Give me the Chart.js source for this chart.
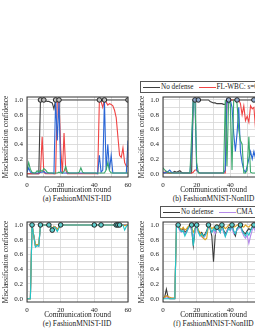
<!DOCTYPE html>
<html>
<head>
<meta charset="utf-8">
<script src="https://cdn.jsdelivr.net/npm/chart.js@4.4.1/dist/chart.umd.min.js"></script>
<style>
  html, body { margin: 0; padding: 0; background: #fff; overflow: hidden; }
  body { width: 255px; height: 330px; position: relative; font-family: 'Liberation Serif', serif; color: #222; }
  canvas { position: absolute; }
  .caption { position: absolute; width: 140px; text-align: center; font-size: 7.4px; line-height: 9px; white-space: nowrap; }
  .legend { position: absolute; height: 10px; border: 1px solid #555; white-space: nowrap; font-size: 7.2px; line-height: 10px; padding: 0 4px 0 2px; background: #fff; }
  .legend .swatch { display: inline-block; width: 17px; height: 0; vertical-align: middle; border-top: 1.2px solid; margin-right: 1px; }
  .legend .item { margin-right: 5px; }
</style>
</head>
<body>
<div class="legend" id="legend-top" style="left:140px; top:81px;"></div>
<div class="legend" id="legend-bottom" style="left:160px; top:206px;"></div>

<canvas id="chart-a" width="134" height="102" style="left:0px; top:92px;"></canvas>
<canvas id="chart-b" width="134" height="102" style="left:136px; top:92px;"></canvas>
<canvas id="chart-e" width="134" height="102" style="left:0px; top:217px;"></canvas>
<canvas id="chart-f" width="134" height="102" style="left:136px; top:217px;"></canvas>

<div class="caption" style="left:7px; top:194px;">(a) FashionMNIST-IID</div>
<div class="caption" style="left:143.5px; top:194px;">(b) FashionMNIST-NonIID</div>
<div class="caption" style="left:7px; top:319px;">(e) FashionMNIST-IID</div>
<div class="caption" style="left:143.5px; top:319px;">(f) FashionMNIST-NonIID</div>

<script>
'use strict';

// DATA
let rounds = [0, 1, 2, 3, 4, 5, 6, 7, 8, 9, 10, 11, 12, 13, 14, 15, 16, 17, 18, 19, 20,
  21, 22, 23, 24, 25, 26, 27, 28, 29, 30, 31, 32, 33, 34, 35, 36, 37, 38, 39, 40,
  41, 42, 43, 44, 45, 46, 47, 48, 49, 50, 51, 52, 53, 54, 55, 56, 57, 58, 59, 60];

let xGridTicks = [0, 10, 20, 30, 40, 50, 60];
let xTickLabels = [0, 20, 40, 60];
let yGridTicks = [0, 0.1, 0.2, 0.3, 0.4, 0.5, 0.6, 0.7, 0.8, 0.9, 1.0];
let yTickLabels = [0, 0.2, 0.4, 0.6, 0.8, 1.0];

let topLabels = ['No defense', 'FL-WBC: s=0.1', 'FL-WBC: s=0.3', 'FL-WBC: s=0.5'];
let bottomLabels = ['No defense', 'CMA', 'Median', 'Trimmed mean'];

// (a) FashionMNIST-IID
let noDefA = [0, 0, 0, 0, 0, 0, 0, 0, 1.0, 1.0,
  0.99, 0.99, 0.98, 0.98, 0.97, 0.96, 0.88, 1.0, 1.0, 1.0,
  1, 1, 1, 1, 1, 1, 1, 1, 1, 1,
  1, 1, 1, 1, 1, 1, 1, 1, 1, 1,
  1, 1, 1, 1, 1, 1, 1, 1, 1, 1,
  1, 1, 1, 1, 1, 1, 1, 1, 1, 1,
  1];
let redA = [0, 0, 0, 0, 0, 0, 0, 0, 0.02, 0.5,
  0.02, 0, 0, 0, 0, 0, 0, 0, 1.0, 1.0,
  0.35, 0, 0.55, 0.05, 0, 0, 0, 0, 0, 0,
  0, 0, 0, 0, 0, 0, 0, 0, 0, 0,
  0, 0, 0, 1.0, 0.98, 0.9, 1.0, 0.97, 0.93, 0.95,
  0.94, 0.92, 0.86, 0.76, 0.5, 0.25, 0.22, 0.35, 0.15, 0.1,
  0.1];
let blueA = [0.02, 0.08, 0.02, 0.01, 0.01, 0.01, 0.01, 0.01, 0.02, 0.02,
  0.03, 0.01, 0.01, 0.01, 0.01, 0.01, 0, 1.0, 0.45, 1.0,
  0.03, 0.01, 0.01, 0.01, 0.01, 0.01, 0.01, 0.01, 0.01, 0.01,
  0.01, 0.01, 0.01, 0.01, 0.01, 0.01, 0.01, 0.01, 0.01, 0.01,
  0.01, 0.01, 0, 0.25, 0.02, 0.05, 1.0, 0.05, 0.4, 0.05,
  0.25, 0.01, 0.01, 0.01, 0.01, 0.01, 0.01, 0.01, 0.01, 0.01,
  0.45];
let greenA = [0.05, 0.15, 0.06, 0.02, 0.01, 0.01, 0.04, 0.02, 0.05, 0.03,
  0.07, 0.05, 0.02, 0.01, 0.01, 0.01, 0.01, 0.01, 0.01, 0.02,
  0.01, 0.01, 0.03, 0.1, 0.02, 0.01, 0.01, 0.01, 0.01, 0.01,
  0.01, 0.02, 0.08, 0.02, 0.01, 0.01, 0.01, 0.01, 0.01, 0.01,
  0.01, 0.01, 0.01, 0.01, 0.01, 0.01, 0.01, 0.05, 0.15, 0.04,
  0.01, 0.01, 0.01, 0.01, 0.01, 0.01, 0.01, 0.01, 0.01, 0.01,
  0.01];
let markRoundsA = [8, 10, 17, 19, 43, 46, 60];
let markValuesA = [1, 1, 1, 1, 1, 1, 1];

// (b) FashionMNIST-NonIID
let noDefB = [0.01, 0.01, 0.01, 0.01, 0.01, 0.01, 0.02, 0.03, 0.02, 0.03,
  0.04, 0.02, 0.01, 0.01, 0.01, 0.01, 0.01, 0.01, 1.0, 1.0,
  1.0, 1.0, 1.0, 1.0, 1.0, 1.0, 1.0, 1.0, 0.98, 0.97,
  0.96, 0.96, 0.95, 0.95, 0.95, 0.95, 0.94, 0.94, 1.0, 1.0,
  1, 1, 1, 1, 1, 1, 1, 1, 1, 1,
  1, 1, 1, 1, 1, 1, 1, 1, 1, 1,
  1];
let redB = [0.01, 0.02, 0.03, 0.01, 0.01, 0.01, 0.01, 0.01, 0.01, 0.01,
  0.01, 0.01, 0.01, 0.01, 0.01, 0.01, 0.01, 0.01, 0.02, 0.05,
  0.05, 0.02, 0.01, 0.01, 0.01, 0.01, 0.01, 0.01, 0.01, 0.01,
  0.01, 0.01, 0.01, 0.01, 0.01, 0.01, 0.01, 0.01, 1.0, 1.0,
  1.0, 1.0, 1.0, 1.0, 1.0, 1.0, 0.95, 0.8, 0.92, 0.72,
  0.78, 0.7, 0.92, 0.88, 0.9, 0.6, 0.3, 0.2, 0.15, 0.1,
  0.1];
let blueB = [0.02, 0.01, 0.02, 0.03, 0.05, 0.02, 0.01, 0.01, 0.01, 0.01,
  0.01, 0.01, 0.01, 0.01, 0.01, 0.01, 0.01, 0.3, 1.0, 1.0,
  0.05, 0.02, 0.01, 0.01, 0.01, 0.01, 0.01, 0.01, 0.01, 0.01,
  0.01, 0.01, 0.01, 0.01, 0.01, 0.01, 0.01, 0.05, 1.0, 0.95,
  1.0, 0.9, 0.55, 0.3, 0.55, 0.9, 0.3, 0.15, 0.05, 0.02,
  0.1, 0.2, 0.3, 0.2, 0.3, 0.2, 0.15, 0.1, 0.1, 0.1,
  0.1];
let greenB = [0.08, 0.05, 0.03, 0.02, 0.01, 0.01, 0.01, 0.01, 0.01, 0.01,
  0.01, 0.01, 0.01, 0.01, 0.01, 0.01, 0.01, 0.5, 1.0, 1.0,
  0.15, 0.01, 0.01, 0.01, 0.01, 0.01, 0.01, 0.01, 0.01, 0.01,
  0.01, 0.01, 0.01, 0.01, 0.01, 0.01, 0.01, 1.0, 0.1, 1.0,
  0.95, 0.05, 1.0, 1.0, 0.95, 0.6, 0.45, 0.4, 0.01, 0.01,
  0.05, 0.5, 0.02, 0.01, 0.01, 0.01, 0.01, 0.01, 0.01, 0.01,
  0.01];
let markRoundsB = [19, 21, 39, 44, 54];
let markValuesB = [1, 1, 1, 1, 1];

// (e) FashionMNIST-IID
let noDefE = [0, 0, 0, 1.0, 0.86, 0.72, 0.73, 0.72, 1.0, 1.0,
  1, 1, 1, 1, 0.98, 0.95, 0.98, 0.97, 0.94, 0.97,
  1, 1, 1, 1, 1, 1, 1, 1, 1, 1,
  1, 1, 1, 1, 1, 1, 1, 1, 1, 1,
  1, 1, 1, 1, 1, 1, 1, 1, 1, 1,
  1, 1, 1, 1, 1, 1, 1, 1, 1, 1,
  1];
let cmaE = [0, 0, 0, 1.0, 0.85, 0.72, 0.72, 0.72, 1.0, 1.0,
  1.0, 1.0, 1.0, 0.99, 0.98, 0.94, 0.98, 0.96, 0.93, 0.97,
  1, 1, 1, 1, 1, 1, 1, 1, 1, 1,
  1, 1, 1, 1, 1, 1, 1, 1, 1, 1,
  1, 1, 1, 1, 1, 1, 1, 1, 1, 1,
  1, 1, 1, 1, 1, 1, 1, 1, 1, 1,
  1];
let orangeE = [0, 0, 0, 1.0, 0.86, 0.73, 0.73, 0.74, 1.0, 1.0,
  1.0, 1.0, 1.0, 0.99, 0.98, 0.95, 0.98, 0.96, 0.94, 0.97,
  1, 1, 1, 1, 1, 1, 1, 1, 1, 1,
  1, 1, 1, 1, 1, 1, 1, 1, 1, 1,
  1, 1, 1, 1, 1, 1, 1, 1, 1, 1,
  1, 1, 1, 1, 1, 1, 1, 1, 0.99, 1.0,
  1];
let cyanE = [0, 0, 0, 1.0, 0.85, 0.7, 0.72, 0.71, 1.0, 1.0,
  1.0, 1.0, 1.0, 0.99, 0.97, 0.93, 0.97, 0.95, 0.91, 0.96,
  1, 1, 1, 1, 1, 1, 1, 1, 1, 1,
  1, 1, 1, 1, 1, 1, 1, 1, 1, 0.98,
  1, 1, 1, 1, 1, 1, 1, 1, 1, 1,
  1, 1, 1, 1, 1, 1, 1, 1, 0.93, 0.98,
  1];
let markRoundsE = [3, 8, 13, 15, 20, 40, 44, 53, 54, 55];
let markValuesE = [1, 1, 1, 0.93, 1, 1, 1, 1, 1, 1];

// (f) FashionMNIST-NonIID
let noDefF = [0, 0.02, 0.13, 0.02, 0, 0, 0, 0, 1.0, 1.0,
  0.95, 0.93, 0.95, 0.9, 0.92, 0.97, 1.0, 0.95, 0.72, 0.93,
  1.0, 0.92, 0.88, 0.9, 0.85, 0.88, 0.92, 1.0, 0.95, 0.85,
  0.5, 0.85, 0.97, 0.95, 0.9, 1.0, 0.93, 0.88, 0.92, 0.97,
  0.95, 1.0, 0.9, 0.85, 0.95, 0.98, 1.0, 0.93, 0.9, 0.88,
  0.92, 0.95, 0.93, 0.97, 1.0, 0.95, 0.93, 0.96, 0.94, 0.95,
  0.96];
let cmaF = [0.01, 0.01, 0.03, 0.01, 0.01, 0.01, 0.01, 0.01, 1.0, 0.97,
  0.92, 0.9, 0.93, 0.88, 0.9, 0.95, 0.98, 0.92, 0.85, 0.9,
  0.98, 0.9, 0.86, 0.84, 0.82, 0.85, 0.9, 0.97, 0.95, 0.9,
  0.93, 0.88, 0.95, 0.93, 0.9, 0.97, 0.9, 0.85, 0.92, 0.95,
  0.92, 0.97, 0.88, 0.9, 0.93, 0.95, 0.97, 0.9, 0.85, 0.82,
  0.86, 0.75, 0.85, 0.93, 0.97, 0.9, 0.88, 0.92, 0.9, 0.91,
  0.92];
let orangeF = [0.01, 0.02, 0.04, 0.03, 0.02, 0.01, 0.01, 0.01, 1.0, 0.98,
  0.96, 0.94, 0.97, 0.93, 0.95, 0.98, 1.0, 0.97, 0.9, 0.95,
  1.0, 0.93, 0.9, 0.85, 0.82, 0.8, 0.82, 1.0, 0.98, 0.95,
  0.97, 0.95, 1.0, 0.98, 0.95, 1.0, 0.98, 0.95, 0.97, 1.0,
  1.0, 1.0, 0.97, 0.98, 1.0, 1.0, 1.0, 0.98, 0.97, 1.0,
  0.98, 0.97, 1.0, 1.0, 1.0, 0.98, 0.97, 0.98, 0.99, 0.98,
  0.98];
let cyanF = [0, 0, 0, 0, 0, 0, 0, 0, 1.0, 1.0,
  0.94, 0.91, 0.92, 0.85, 0.9, 0.95, 1.0, 0.98, 0.72, 0.95,
  1.0, 0.9, 0.85, 0.88, 0.84, 0.86, 0.9, 1.0, 0.96, 0.9,
  0.95, 0.92, 0.97, 0.94, 0.9, 1.0, 0.92, 0.84, 0.9, 0.95,
  0.93, 1.0, 0.92, 0.88, 0.95, 0.97, 1.0, 0.92, 0.88, 0.85,
  0.9, 0.86, 0.92, 0.97, 1.0, 0.95, 0.93, 0.95, 0.94, 0.96,
  0.95];
let markRoundsF = [9, 17, 20, 27, 32, 35, 41, 46, 54];
let markValuesF = [1, 1, 1, 1, 0.97, 1, 1, 1, 1];

// COLORS
let topColors = ['#404040', '#f04444', '#2a66d6', '#3aa86c'];
let bottomColors = ['#3a3a3a', '#b58be9', '#daa21e', '#22c3c6'];

Chart.defaults.font.family = "'Liberation Serif', serif";
Chart.defaults.color = '#222';

// FRAME AROUND PLOT AREA
const framePlugin = {
  id: 'frame',
  afterDatasetsDraw(chart) {
    let a = chart.chartArea;
    let c = chart.ctx;
    c.save();
    c.strokeStyle = '#333';
    c.lineWidth = 1;
    c.strokeRect(a.left, a.top, a.right - a.left, a.bottom - a.top);
    c.restore();
  }
};

// HELPERS
function toPoints(values) {
  let pts = [];
  for (let i = 0; i < values.length; i++) {
    pts.push({ x: rounds[i], y: values[i] });
  }
  return pts;
}

function markerPoints(r, v) {
  let pts = [];
  for (let i = 0; i < r.length; i++) {
    pts.push({ x: r[i], y: v[i] });
  }
  return pts;
}

function isLabelled(value, list) {
  for (let i = 0; i < list.length; i++) {
    if (Math.abs(value - list[i]) < 1e-6) return true;
  }
  return false;
}

function renderPanel(id, seriesList, labels, colors, mRounds, mValues, mFill) {
  let datasets = [{
    label: 'attack',
    data: markerPoints(mRounds, mValues),
    showLine: false,
    pointRadius: 2.3,
    pointBorderWidth: 1,
    pointBorderColor: '#222',
    pointBackgroundColor: mFill
  }];
  // first series drawn last (bottom), so push in reverse order
  for (let i = seriesList.length - 1; i >= 0; i--) {
    datasets.push({
      label: labels[i],
      data: toPoints(seriesList[i]),
      borderColor: colors[i],
      borderWidth: 1.1,
      pointRadius: 0,
      tension: 0
    });
  }

  new Chart(document.getElementById(id), {
    type: 'line',
    data: { datasets: datasets },
    plugins: [framePlugin],
    options: {
      responsive: false,
      animation: false,
      devicePixelRatio: 1,
      layout: { padding: { left: 0, right: 6, top: 4, bottom: 0 } },
      plugins: { legend: { display: false }, tooltip: { enabled: false } },
      scales: {
        x: {
          type: 'linear',
          min: 0,
          max: 60,
          afterBuildTicks: (s) => { s.ticks = xGridTicks.map(v => ({ value: v })); },
          afterFit: (s) => { s.height = 17; s.paddingLeft = 0; s.paddingRight = 0; },
          grid: { color: '#d6d6d6', lineWidth: 0.8, drawTicks: false },
          border: { display: false },
          ticks: {
            padding: 4,
            maxRotation: 0,
            autoSkip: false,
            font: { size: 7 },
            callback: (v) => isLabelled(v, xTickLabels) ? String(v) : ''
          },
          title: {
            display: true,
            text: 'Communication round',
            font: { size: 7.4, lineHeight: 1 },
            padding: { top: 0, bottom: 0 }
          }
        },
        y: {
          min: -0.045,
          max: 1.04,
          afterBuildTicks: (s) => { s.ticks = yGridTicks.map(v => ({ value: v })); },
          afterFit: (s) => { s.width = 27; s.paddingTop = 0; s.paddingBottom = 0; },
          grid: { color: '#d6d6d6', lineWidth: 0.8, drawTicks: false },
          border: { display: false },
          ticks: {
            padding: 4,
            autoSkip: false,
            font: { size: 7 },
            callback: (v) => isLabelled(v, yTickLabels) ? v.toFixed(1) : ''
          },
          title: {
            display: true,
            text: 'Misclassification confidence',
            font: { size: 7.2, lineHeight: 1 },
            padding: { top: 3, bottom: 0 }
          }
        }
      }
    }
  });
}

function renderLegend(id, labels, colors) {
  let box = document.getElementById(id);
  for (let i = 0; i < labels.length; i++) {
    let sw = document.createElement('span');
    sw.className = 'swatch';
    sw.style.borderTopColor = colors[i];
    let txt = document.createElement('span');
    txt.className = 'item';
    txt.textContent = labels[i];
    box.appendChild(sw);
    box.appendChild(txt);
  }
}

// EXECUTABLES
renderLegend('legend-top', topLabels, topColors);
renderLegend('legend-bottom', bottomLabels, bottomColors);

renderPanel('chart-a', [noDefA, redA, blueA, greenA], topLabels, topColors, markRoundsA, markValuesA, '#bdbdbd');
renderPanel('chart-b', [noDefB, redB, blueB, greenB], topLabels, topColors, markRoundsB, markValuesB, '#8fa9cc');
renderPanel('chart-e', [noDefE, cmaE, orangeE, cyanE], bottomLabels, bottomColors, markRoundsE, markValuesE, '#5fcfcf');
renderPanel('chart-f', [noDefF, cmaF, orangeF, cyanF], bottomLabels, bottomColors, markRoundsF, markValuesF, '#5fcfcf');
</script>
</body>
</html>
